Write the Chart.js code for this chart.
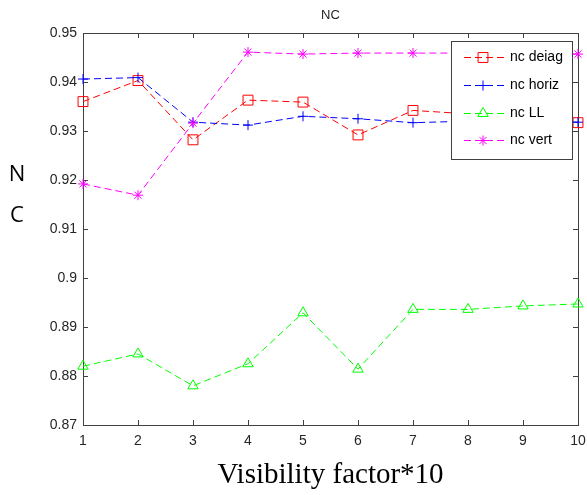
<!DOCTYPE html>
<html>
<head>
<meta charset="utf-8">
<script src="https://cdn.jsdelivr.net/npm/chart.js@4.4.1/dist/chart.umd.min.js"></script>
<style>
  html, body { margin: 0; padding: 0; background: #ffffff; }
  #wrap { width: 587px; height: 495px; position: relative; }
</style>
</head>
<body>
<div id="wrap"><canvas id="c" width="587" height="495"></canvas></div>
<script>
// ---- data ----
const xValues = [1, 2, 3, 4, 5, 6, 7, 8, 9, 10];
const ncDeiag = [0.9360, 0.9403, 0.9282, 0.9363, 0.9359, 0.9292, 0.9342, 0.9335, 0.9330, 0.9317];
const ncHoriz = [0.9406, 0.9409, 0.9318, 0.9312, 0.9330, 0.9325, 0.9317, 0.9320, 0.9319, 0.9318];
const ncLL    = [0.8820, 0.8845, 0.8780, 0.8825, 0.8929, 0.8814, 0.8936, 0.8936, 0.8943, 0.8947];
const ncVert  = [0.9192, 0.9169, 0.9316, 0.9461, 0.9457, 0.9459, 0.9459, 0.9459, 0.9458, 0.9457];
const seriesNames = ['nc deiag', 'nc horiz', 'nc LL', 'nc vert'];
const chartTitle = 'NC';
const yTitleLetters = ['N', 'C'];
const xTitle = 'Visibility factor*10';
const yMin = 0.87, yMax = 0.95, yStep = 0.01;
const xMin = 1, xMax = 10;

const toXY = arr => arr.map((v, i) => ({ x: xValues[i], y: v }));

const axisColor = '#404040';
const textColor = '#262626';

function mk(label, data, color, style, radius, order) {
  return {
    label, data: toXY(data),
    borderColor: color, backgroundColor: 'rgba(0,0,0,0)',
    borderWidth: 1, borderDash: [7, 4],
    pointStyle: style, pointRadius: radius, pointHoverRadius: radius,
    pointBorderColor: color, pointBackgroundColor: 'rgba(0,0,0,0)',
    pointHoverBorderColor: color, pointHoverBackgroundColor: 'rgba(0,0,0,0)',
    pointBorderWidth: 1, tension: 0, clip: false, order
  };
}

const frame = {
  id: 'frame',
  beforeDatasetsDraw(chart) {
    const { ctx, chartArea: a, scales } = chart;
    ctx.save();
    ctx.strokeStyle = axisColor;
    ctx.lineWidth = 1;
    ctx.strokeRect(a.left + 0.5, a.top + 0.5, a.right - a.left, a.bottom - a.top);
    ctx.beginPath();
    const tl = 5;
    scales.x.ticks.forEach(t => {
      const px = Math.round(scales.x.getPixelForValue(t.value)) + 0.5;
      ctx.moveTo(px, a.bottom); ctx.lineTo(px, a.bottom - tl);
      ctx.moveTo(px, a.top); ctx.lineTo(px, a.top + tl);
    });
    scales.y.ticks.forEach(t => {
      const py = Math.round(scales.y.getPixelForValue(t.value)) + 0.5;
      ctx.moveTo(a.left, py); ctx.lineTo(a.left + tl, py);
      ctx.moveTo(a.right, py); ctx.lineTo(a.right - tl, py);
    });
    ctx.stroke();
    // title
    ctx.fillStyle = textColor;
    ctx.font = '13px "Liberation Sans", Arial, sans-serif';
    ctx.textAlign = 'center'; ctx.textBaseline = 'middle';
    ctx.fillText(chartTitle, (a.left + a.right) / 2, 15);
    // stacked y title
    ctx.fillStyle = '#000000';
    ctx.font = '22px "Open Sans", "Liberation Sans", sans-serif';
    ctx.fillText(yTitleLetters[0], 17, 175);
    ctx.fillText(yTitleLetters[1], 17, 216);
    ctx.restore();
  },
  afterDatasetsDraw(chart) {
    const { ctx } = chart;
    const bx = 451, by = 41, bw = 121, bh = 118;
    ctx.save();
    ctx.fillStyle = '#ffffff';
    ctx.fillRect(bx, by, bw, bh);
    ctx.strokeStyle = axisColor; ctx.lineWidth = 1;
    ctx.strokeRect(bx + 0.5, by + 0.5, bw, bh);
    chart.data.datasets.forEach((ds, i) => {
      const y = Math.round(57 + i * 27.8) + 0.5;
      ctx.strokeStyle = ds.borderColor;
      ctx.lineWidth = 1;
      ctx.setLineDash([7, 4]);
      ctx.beginPath(); ctx.moveTo(464, y); ctx.lineTo(507, y); ctx.stroke();
      ctx.setLineDash([]);
      ctx.fillStyle = 'rgba(0,0,0,0)';
      ctx.strokeStyle = ds.borderColor;
      Chart.helpers.drawPoint(ctx, {
        pointStyle: ds.pointStyle, radius: ds.pointRadius, borderWidth: 1, rotation: 0
      }, 483, y);
      ctx.fillStyle = '#000000';
      ctx.font = '14px "Liberation Sans", Arial, sans-serif';
      ctx.textAlign = 'left'; ctx.textBaseline = 'middle';
      ctx.fillText(ds.label, 510, y);
    });
    ctx.restore();
  }
};

new Chart(document.getElementById('c'), {
  type: 'line',
  data: {
    datasets: [
      mk(seriesNames[0], ncDeiag, '#ff0000', 'rect', 7, 4),
      mk(seriesNames[1], ncHoriz, '#0000ff', 'cross', 5, 3),
      mk(seriesNames[2], ncLL, '#00ff00', 'triangle', 6, 2),
      mk(seriesNames[3], ncVert, '#ff00ff', 'star', 5, 1)
    ]
  },
  options: {
    responsive: false, animation: false, devicePixelRatio: 1, events: [],
    layout: { autoPadding: false, padding: { left: 0, right: 9, top: 33, bottom: 0 } },
    plugins: { legend: { display: false }, tooltip: { enabled: false }, title: { display: false } },
    scales: {
      x: {
        type: 'linear', min: xMin, max: xMax,
        ticks: { stepSize: 1, color: textColor, padding: 8,
                 font: { family: '"Liberation Sans", Arial, sans-serif', size: 14 } },
        grid: { display: false, drawTicks: false },
        border: { display: false },
        title: { display: true, text: xTitle, color: '#000000',
                 font: { family: '"Liberation Serif", "Times New Roman", serif', size: 29 },
                 padding: { top: 0, bottom: 2 } },
        afterFit(s) { s.height = 70; s.paddingLeft = 0; s.paddingRight = 0; }
      },
      y: {
        type: 'linear', min: yMin, max: yMax,
        ticks: { stepSize: yStep, color: textColor, padding: 6,
                 font: { family: '"Liberation Sans", Arial, sans-serif', size: 14 },
                 callback: v => String(+v.toFixed(2)) },
        grid: { display: false, drawTicks: false },
        border: { display: false },
        afterFit(s) { s.width = 83; s.paddingTop = 0; s.paddingBottom = 0; }
      }
    }
  },
  plugins: [frame]
});
</script>
</body>
</html>
